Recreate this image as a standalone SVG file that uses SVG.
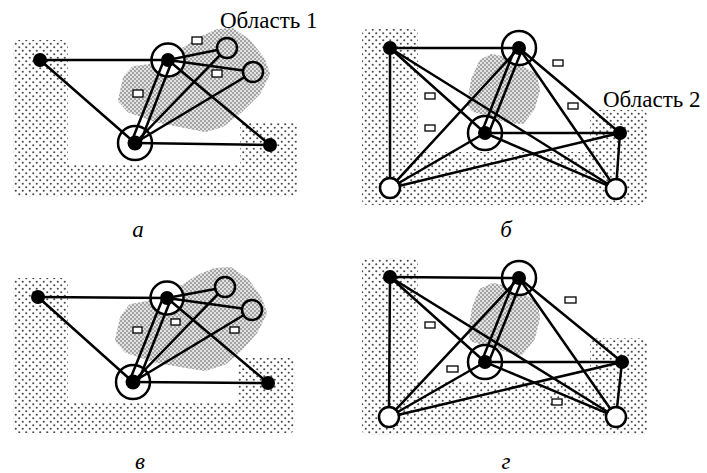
<svg xmlns="http://www.w3.org/2000/svg" width="707" height="473" viewBox="0 0 707 473">
<defs>
<pattern id="dots" patternUnits="userSpaceOnUse" width="7" height="7">
<rect width="7" height="7" fill="#fff"/>
<circle cx="1.75" cy="1.75" r="1.05" fill="#4a4a4a"/>
<circle cx="5.25" cy="5.25" r="1.05" fill="#4a4a4a"/>
</pattern>
<pattern id="fine" patternUnits="userSpaceOnUse" width="4" height="4">
<rect width="4" height="4" fill="#e2e2e2"/>
<circle cx="1" cy="1" r="0.8" fill="#555"/>
<circle cx="3" cy="3" r="0.8" fill="#555"/>
</pattern>
<style>
.bg{fill:url(#dots)}
.blob{fill:url(#fine);stroke:url(#fine);stroke-width:6;stroke-linejoin:round}
.e{stroke:#000;stroke-width:2.5;fill:none;stroke-linecap:round}
.ring{fill:#fff;stroke:#000;stroke-width:2.5}
.open{fill:none;stroke:#000;stroke-width:2.5}
.openw{fill:#fff;stroke:#000;stroke-width:2.5}
.dot{fill:#000}
.box{fill:#fff;stroke:#000;stroke-width:1.3}
.lbl{font-family:"Liberation Serif","Times New Roman",serif;font-size:23px;fill:#000}
.cap{font-style:italic;text-anchor:middle}
</style>
</defs>
<rect width="707" height="473" fill="#fff"/>

<!-- Panel a -->
<g id="panel-a">
<path class="bg" d="M19,40 H62 Q68,40 68,46 V165 H240 V128 Q240,122 246,122 H291 Q297,122 297,128 V191 Q297,197 291,197 H19 Q13,197 13,191 V46 Q13,40 19,40 Z"/>
<polygon class="blob" points="121,100 126,78 134,69 150,67 175,56 200,40 218,32 232,31 248,42 262,60 267,74 258,92 240,110 222,124 205,129 180,124 155,119 130,110"/>
<rect class="box" x="192" y="37" width="10" height="7"/>
<rect class="box" x="212" y="70" width="10" height="7"/>
<rect class="box" x="133" y="90" width="10" height="7"/>
<g id="a-A"><circle class="dot" cx="40" cy="60" r="7"/></g>
<g id="a-B"><circle class="ring" cx="168" cy="60" r="16.5"/><circle class="dot" cx="168" cy="60" r="7"/></g>
<g id="a-C"><circle class="open" cx="227" cy="48" r="10"/></g>
<g id="a-D"><circle class="open" cx="253" cy="72" r="10"/></g>
<g id="a-E"><circle class="ring" cx="135" cy="143" r="17"/><circle class="dot" cx="135" cy="143" r="7.5"/></g>
<g id="a-F"><circle class="dot" cx="270" cy="145" r="7"/></g>
<g id="a-connectors">
<line class="e" x1="40" y1="60" x2="168" y2="60"/>
<line class="e" x1="40" y1="60" x2="135" y2="143"/>
<line class="e" x1="168" y1="60" x2="217.2" y2="50"/>
<line class="e" x1="168" y1="60" x2="243.1" y2="70.6"/>
<line class="e" x1="168" y1="60" x2="270" y2="145"/>
<line class="e" x1="135" y1="143" x2="270" y2="145"/>
<line class="e" x1="131" y1="143" x2="164" y2="60"/>
<line class="e" x1="140" y1="143" x2="172" y2="61"/>
<line class="e" x1="135" y1="143" x2="220" y2="55.2"/>
<line class="e" x1="135" y1="143" x2="244.4" y2="77.2"/>
</g>
<text class="lbl" x="220" y="28">Область 1</text>
<text class="lbl cap" x="138" y="237">а</text>
</g>

<!-- Panel b -->
<g id="panel-b">
<path class="bg" d="M368,29 H412 Q418,29 418,35 V152 H590 V116 Q590,110 596,110 H641 Q647,110 647,116 V199 Q647,205 641,205 H368 Q362,205 362,199 V35 Q362,29 368,29 Z"/>
<polygon class="blob" points="470,104 474,80 482,62 492,57 505,60 520,68 534,76 537,90 532,108 522,121 508,120 490,114 474,109"/>
<rect class="box" x="553" y="60" width="10" height="6"/>
<rect class="box" x="425" y="93" width="10" height="6"/>
<rect class="box" x="425" y="125" width="10" height="6"/>
<rect class="box" x="568" y="103" width="10" height="6"/>
<g id="b-P1"><circle class="dot" cx="390" cy="48" r="7"/></g>
<g id="b-P2"><circle class="ring" cx="519" cy="48" r="17"/><circle class="dot" cx="519" cy="48" r="7"/></g>
<g id="b-P3"><circle class="ring" cx="485" cy="133" r="17"/><circle class="dot" cx="485" cy="133" r="7"/></g>
<g id="b-P4"><circle class="dot" cx="620" cy="133" r="7"/></g>
<g id="b-P5"><circle class="openw" cx="390" cy="188" r="10"/></g>
<g id="b-P6"><circle class="openw" cx="616" cy="189" r="10"/></g>
<g id="b-connectors">
<line class="e" x1="390" y1="48" x2="519" y2="48"/>
<line class="e" x1="390" y1="48" x2="390" y2="178"/>
<line class="e" x1="390" y1="48" x2="485" y2="133"/>
<line class="e" x1="390" y1="48" x2="607.5" y2="183.7"/>
<line class="e" x1="515.8" y1="46.7" x2="481.8" y2="131.7"/>
<line class="e" x1="522.2" y1="49.3" x2="488.2" y2="134.3"/>
<line class="e" x1="519" y1="48" x2="396.8" y2="180.7"/>
<line class="e" x1="519" y1="48" x2="620" y2="133"/>
<line class="e" x1="519" y1="48" x2="610.3" y2="180.8"/>
<line class="e" x1="485" y1="133" x2="620" y2="133"/>
<line class="e" x1="485" y1="133" x2="398.7" y2="183"/>
<line class="e" x1="485" y1="133" x2="606.8" y2="185.1"/>
<line class="e" x1="399.7" y1="185.7" x2="620" y2="133"/>
<line class="e" x1="620" y1="133" x2="616.7" y2="179"/>
</g>
<text class="lbl" x="603" y="107">Область 2</text>
<text class="lbl cap" x="506" y="237">б</text>
</g>

<!-- Panel v -->
<g id="panel-v">
<path class="bg" d="M19,278 H62 Q68,278 68,284 V402 H238 V364 Q238,358 244,358 H289 Q295,358 295,364 V427 Q295,433 289,433 H19 Q13,433 13,427 V284 Q13,278 19,278 Z"/>
<polygon class="blob" points="118,340 123,318 131,307 148,304 173,294 198,278 215,271 230,270 246,281 259,299 264,313 255,331 240,348 224,362 205,368 180,364 153,359 127,350"/>
<rect class="box" x="133" y="327" width="9" height="6"/>
<rect class="box" x="171" y="319" width="9" height="6"/>
<rect class="box" x="230" y="327" width="9" height="6"/>
<g id="v-A"><circle class="dot" cx="38" cy="297" r="7"/></g>
<g id="v-B"><circle class="ring" cx="167" cy="298" r="16.5"/><circle class="dot" cx="167" cy="298" r="7"/></g>
<g id="v-C"><circle class="open" cx="225" cy="287" r="10"/></g>
<g id="v-D"><circle class="open" cx="252" cy="310" r="10"/></g>
<g id="v-E"><circle class="ring" cx="133" cy="382" r="17"/><circle class="dot" cx="133" cy="382" r="7.5"/></g>
<g id="v-F"><circle class="dot" cx="268" cy="383" r="7"/></g>
<g id="v-connectors">
<line class="e" x1="38" y1="297" x2="167" y2="298"/>
<line class="e" x1="38" y1="297" x2="133" y2="382"/>
<line class="e" x1="167" y1="298" x2="215.2" y2="288.9"/>
<line class="e" x1="167" y1="298" x2="242.1" y2="308.6"/>
<line class="e" x1="167" y1="298" x2="268" y2="383"/>
<line class="e" x1="133" y1="382" x2="268" y2="383"/>
<line class="e" x1="129" y1="382" x2="163" y2="298"/>
<line class="e" x1="138" y1="382" x2="171" y2="299"/>
<line class="e" x1="133" y1="382" x2="218" y2="294.2"/>
<line class="e" x1="133" y1="382" x2="243.4" y2="315.2"/>
</g>
<text class="lbl cap" x="140" y="469">в</text>
</g>

<!-- Panel g -->
<g id="panel-g">
<path class="bg" d="M368,258 H412 Q418,258 418,264 V382 H590 V344 Q590,338 596,338 H641 Q647,338 647,344 V429 Q647,435 641,435 H368 Q362,435 362,429 V264 Q362,258 368,258 Z"/>
<polygon class="blob" points="471,332 475,308 482,291 493,286 506,289 522,296 535,305 537,318 532,338 521,352 506,349 488,343 473,339"/>
<rect class="box" x="565" y="297" width="11" height="6"/>
<rect class="box" x="425" y="322" width="10" height="6"/>
<rect class="box" x="447" y="366" width="11" height="6"/>
<rect class="box" x="552" y="399" width="10" height="6"/>
<g id="g-Q1"><circle class="dot" cx="390" cy="277" r="7"/></g>
<g id="g-Q2"><circle class="ring" cx="519" cy="278" r="17"/><circle class="dot" cx="519" cy="278" r="7"/></g>
<g id="g-Q3"><circle class="ring" cx="485" cy="362" r="17"/><circle class="dot" cx="485" cy="362" r="7"/></g>
<g id="g-Q4"><circle class="dot" cx="622" cy="362" r="7"/></g>
<g id="g-Q5"><circle class="openw" cx="389" cy="417" r="10"/></g>
<g id="g-Q6"><circle class="openw" cx="616" cy="417" r="10"/></g>
<g id="g-connectors">
<line class="e" x1="390" y1="277" x2="519" y2="278"/>
<line class="e" x1="390" y1="277" x2="389" y2="407"/>
<line class="e" x1="390" y1="277" x2="485" y2="362"/>
<line class="e" x1="390" y1="277" x2="607.5" y2="411.7"/>
<line class="e" x1="515.8" y1="276.7" x2="481.8" y2="360.7"/>
<line class="e" x1="522.2" y1="279.3" x2="488.2" y2="363.3"/>
<line class="e" x1="519" y1="278" x2="395.8" y2="409.7"/>
<line class="e" x1="519" y1="278" x2="622" y2="362"/>
<line class="e" x1="519" y1="278" x2="610.3" y2="408.8"/>
<line class="e" x1="485" y1="362" x2="622" y2="362"/>
<line class="e" x1="485" y1="362" x2="397.7" y2="412"/>
<line class="e" x1="485" y1="362" x2="606.8" y2="413.1"/>
<line class="e" x1="398.7" y1="414.7" x2="622" y2="362"/>
<line class="e" x1="622" y1="362" x2="617.1" y2="407.1"/>
</g>
<text class="lbl cap" x="506" y="469">г</text>
</g>
</svg>
